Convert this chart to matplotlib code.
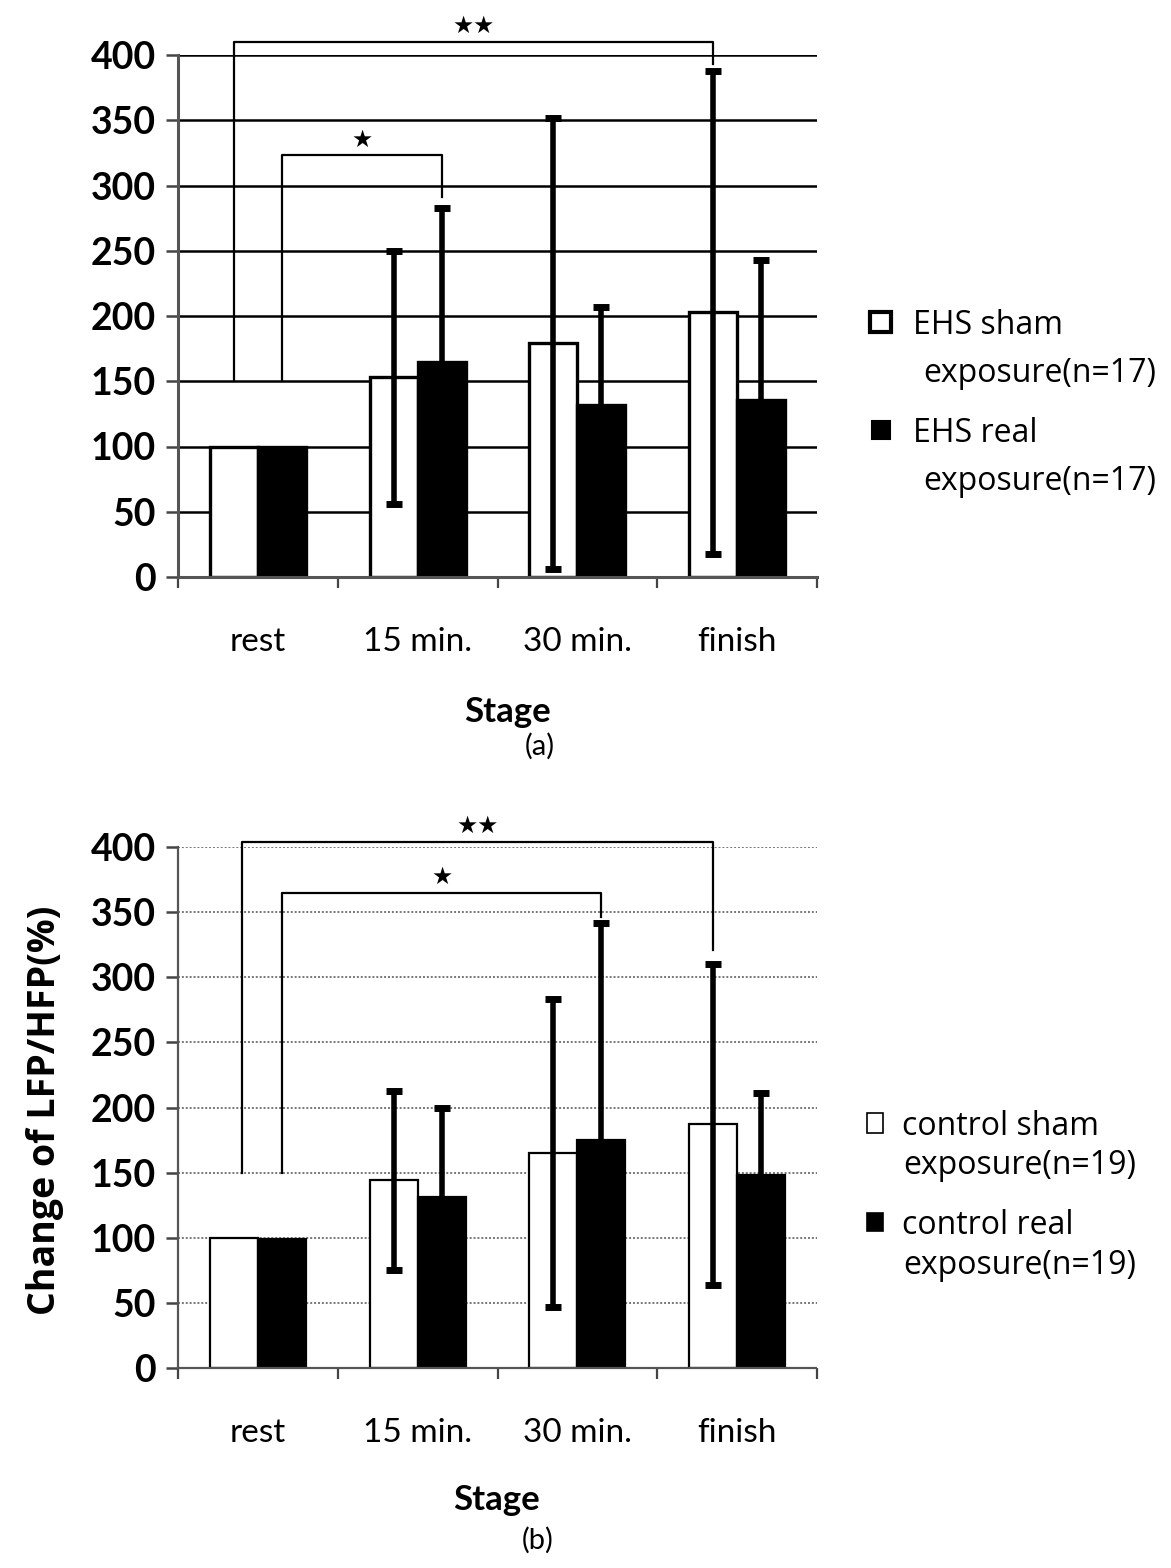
import matplotlib
matplotlib.use("Agg")
import matplotlib.pyplot as plt
from matplotlib.patches import Rectangle
import numpy as np

plt.rcParams['font.family'] = ['Lato', 'DejaVu Sans']

stages = ["rest", "15 min.", "30 min.", "finish"]

# panel (a): EHS group
ehs_sham = [100, 153, 179, 203]
ehs_sham_err = [0, 97, 173, 185]
ehs_real = [100, 165, 132, 136]
ehs_real_err = [0, 118, 75, 107]

# panel (b): control group
ctl_sham = [100, 144, 165, 187]
ctl_sham_err = [0, 69, 118, 123]
ctl_real = [99, 131, 175, 148]
ctl_real_err = [0, 69, 167, 63]

# significance brackets: (x_left, y_left, x_right, y_right, y_top, label)
brackets_a = [(-0.15, 150, 2.85, 393, 410, "★★"),
              (0.15, 150, 1.15, 291, 323, "★")]
brackets_b = [(-0.10, 150, 2.85, 321, 404, "★★"),
              (0.15, 150, 2.15, 346, 365, "★")]

W, H = 1171, 1568


def fx(x):
    return x / W


def fy(y):
    return 1 - y / H


fig = plt.figure(figsize=(W / 100, H / 100), dpi=100)
ax_a = fig.add_axes([fx(178), fy(577), fx(817) - fx(178), fy(55) - fy(577)])
ax_b = fig.add_axes([fx(178), fy(1368), fx(817) - fx(178), fy(847) - fy(1368)])


def draw_panel(ax, sham, sham_err, real, real_err, brackets, solid_grid):
    x = np.arange(len(stages))
    w = 0.3
    lw_edge = 2.4 if solid_grid else 1.6
    ax.bar(x - w / 2, sham, w, color="white", edgecolor="black", linewidth=lw_edge, zorder=2)
    ax.bar(x + w / 2, real, w, color="black", edgecolor="black", linewidth=lw_edge, zorder=2)
    xs = list(x - w / 2) + list(x + w / 2)
    ys = list(sham) + list(real)
    es = list(sham_err) + list(real_err)
    for xi, yi, ei in zip(xs, ys, es):
        if ei > 0:
            ax.errorbar(xi, yi, yerr=ei, fmt="none", ecolor="black", elinewidth=4,
                        capsize=6, capthick=5, zorder=3)
    for x1, y1, x2, y2, yt, lab in brackets:
        ax.plot([x1, x1, x2, x2], [y1, yt, yt, y2], color="black", lw=1.6,
                clip_on=False, zorder=4)
        ax.text((x1 + x2) / 2, yt + 3, lab, ha="center", va="bottom",
                fontsize=17, family=["DejaVu Sans"], clip_on=False)

    ax.set_xlim(-0.5, 3.5)
    ax.set_ylim(0, 400)
    ax.set_yticks(np.arange(0, 401, 50))
    ax.set_xticks(x)
    ax.set_xticklabels(stages, fontsize=24)
    ax.set_xticks(np.arange(-0.5, 3.6, 1), minor=True)
    ax.tick_params(axis="x", which="major", length=0, pad=36)
    ax.tick_params(axis="x", which="minor", length=8, width=1.6, direction="out", color="#444444")
    ax.tick_params(axis="y", labelsize=27, length=9, width=1.8, pad=7, color="#444444")
    for lab in ax.get_yticklabels():
        lab.set_fontweight("bold")
    for s in ["top", "right"]:
        ax.spines[s].set_visible(False)
    for s in ["left", "bottom"]:
        ax.spines[s].set_color("#555555")
        ax.spines[s].set_linewidth(2.2 if solid_grid else 1.6)
        if not solid_grid:
            ax.spines[s].set_linestyle((0, (1, 1)))
    ax.set_axisbelow(True)
    if solid_grid:
        ax.yaxis.grid(True, color="black", linewidth=1.8)
    else:
        ax.yaxis.grid(True, color="#777777", linewidth=1.4, linestyle=(0, (1, 1)))


draw_panel(ax_a, ehs_sham, ehs_sham_err, ehs_real, ehs_real_err, brackets_a, True)
draw_panel(ax_b, ctl_sham, ctl_sham_err, ctl_real, ctl_real_err, brackets_b, False)

# axis titles and panel letters
fig.text(fx(508), fy(712), "Stage", ha="center", va="center", fontsize=25, fontweight="bold")
fig.text(fx(540), fy(746), "(a)", ha="center", va="center", fontsize=21)
fig.text(fx(497), fy(1500), "Stage", ha="center", va="center", fontsize=25, fontweight="bold")
fig.text(fx(538), fy(1540), "(b)", ha="center", va="center", fontsize=21)
fig.text(fx(45), fy(1110), "Change of LFP/HFP(%)", ha="center", va="center",
         rotation=90, fontsize=27, fontweight="bold", family=["Open Sans", "DejaVu Sans"])


def legend_entry(x_sq, sq_w, sq_h, yc, filled, lw, x1, b1, line1, x2, b2, line2):
    fig.add_artist(Rectangle((fx(x_sq), fy(yc + sq_h / 2)), sq_w / W, sq_h / H,
                             transform=fig.transFigure,
                             facecolor="black" if filled else "white",
                             edgecolor="black", linewidth=lw))
    fig.text(fx(x1), fy(b1), line1, ha="left", va="baseline", fontsize=23,
             family=["Open Sans", "DejaVu Sans"])
    fig.text(fx(x2), fy(b2), line2, ha="left", va="baseline", fontsize=23,
             family=["Open Sans", "DejaVu Sans"])


legend_entry(870, 21, 19, 322, False, 3.0, 913, 334, "EHS sham", 923, 382, "exposure(n=17)")
legend_entry(872, 18, 18, 430, True, 1.5, 913, 442, "EHS real", 923, 490, "exposure(n=17)")
legend_entry(867, 16, 20, 1123, False, 1.2, 902, 1135, "control sham", 903, 1174, "exposure(n=19)")
legend_entry(867, 16, 18, 1222, True, 1.2, 902, 1234, "control real", 903, 1274, "exposure(n=19)")

fig.savefig("out.png", dpi=100, facecolor="white")
